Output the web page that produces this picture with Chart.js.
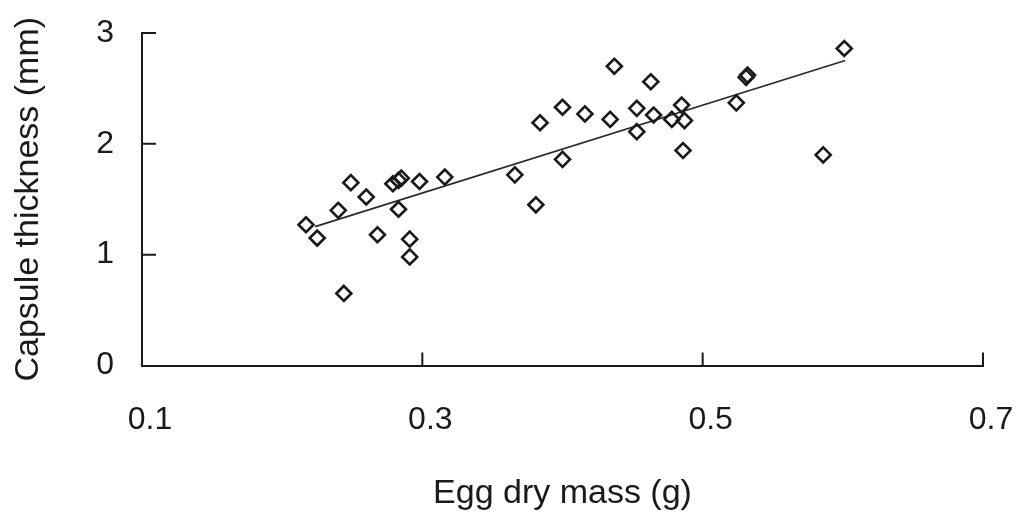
<!DOCTYPE html>
<html>
<head>
<meta charset="utf-8">
<script src="https://cdn.jsdelivr.net/npm/chart.js@4.4.1/dist/chart.umd.min.js"></script>
<style>
  html, body { margin: 0; padding: 0; background: #fff; }
  #wrap { width: 1032px; height: 516px; }
</style>
</head>
<body>
<div id="wrap"><canvas id="scatter"></canvas></div>
<script>
// DATA ==============================================================
var eggMass = [0.217, 0.225, 0.240, 0.244, 0.249, 0.260, 0.268, 0.279, 0.283, 0.285,
               0.283, 0.291, 0.291, 0.298, 0.316, 0.366, 0.381, 0.384, 0.400, 0.400,
               0.416, 0.434, 0.437, 0.453, 0.453, 0.463, 0.465, 0.478, 0.485, 0.487,
               0.486, 0.524, 0.531, 0.532, 0.586, 0.601];
var capsuleThickness = [1.27, 1.15, 1.40, 0.65, 1.65, 1.52, 1.18, 1.64, 1.67, 1.69,
                        1.41, 1.14, 0.98, 1.66, 1.70, 1.72, 1.45, 2.19, 2.33, 1.86,
                        2.27, 2.22, 2.70, 2.32, 2.11, 2.56, 2.26, 2.22, 2.35, 2.21,
                        1.94, 2.37, 2.60, 2.62, 1.90, 2.86];
var fitX = [0.2235, 0.6017];
var fitY = [1.253, 2.751];

var xTickMarks = [0.3, 0.5, 0.7];
var yTickMarks = [1, 2, 3];

var ink = "#1a1a1a";
var font = "'Liberation Sans', Arial, sans-serif";

var points = eggMass.map(function (m, i) { return { x: m, y: capsuleThickness[i] }; });
var fitLine = fitX.map(function (m, i) { return { x: m, y: fitY[i] }; });

// inward tick marks (Chart.js only draws them outward)
var innerTicks = {
	id: "innerTicks",
	afterDraw: function (chart) {
		var ctx = chart.ctx;
		var xs = chart.scales.x, ys = chart.scales.y;
		var area = chart.chartArea;
		ctx.save();
		ctx.strokeStyle = ink;
		ctx.lineWidth = 2;
		ctx.beginPath();
		yTickMarks.forEach(function (v) {
			var py = ys.getPixelForValue(v);
			ctx.moveTo(area.left, py);
			ctx.lineTo(area.left + 14, py);
		});
		xTickMarks.forEach(function (v) {
			var px = xs.getPixelForValue(v);
			ctx.moveTo(px, area.bottom);
			ctx.lineTo(px, area.bottom - 13);
		});
		ctx.stroke();
		ctx.restore();
	}
};

var chart = new Chart(document.getElementById("scatter"), {
	type: "scatter",
	data: {
		datasets: [
			{
				label: "Eggs",
				data: points,
				pointStyle: "rectRot",
				pointRadius: 7.5,
				pointBorderWidth: 2.6,
				pointBorderColor: ink,
				pointBackgroundColor: "rgba(0,0,0,0)"
			},
			{
				type: "line",
				label: "Fit",
				data: fitLine,
				borderColor: "#2a2a2a",
				borderWidth: 1.6,
				pointRadius: 0,
				fill: false
			}
		]
	},
	options: {
		responsive: true,
		maintainAspectRatio: false,
		animation: false,
		layout: { padding: { top: 33, right: 49, left: 0, bottom: 0 } },
		plugins: {
			legend: { display: false },
			tooltip: { enabled: false }
		},
		scales: {
			x: {
				type: "linear",
				min: 0.1,
				max: 0.7,
				afterFit: function (s) {
					s.height = 150.5;
					s.paddingLeft = 0;
					s.paddingRight = 0;
				},
				ticks: {
					stepSize: 0.2,
					padding: 35,
					labelOffset: 8,
					color: ink,
					font: { family: font, size: 32 },
					callback: function (v) { return v.toFixed(1); }
				},
				grid: { drawOnChartArea: false, drawTicks: false },
				border: { display: true, color: ink, width: 2 },
				title: {
					display: true,
					text: "Egg dry mass (g)",
					color: ink,
					font: { family: font, size: 34 },
					padding: { top: 0, bottom: 2 }
				}
			},
			y: {
				min: 0,
				max: 3,
				afterFit: function (s) {
					s.width = 142;
					s.paddingTop = 0;
					s.paddingBottom = 0;
				},
				ticks: {
					stepSize: 1,
					padding: 28,
					color: ink,
					font: { family: font, size: 32 }
				},
				grid: { drawOnChartArea: false, drawTicks: false },
				border: { display: true, color: ink, width: 2 },
				title: {
					display: true,
					text: "Capsule thickness (mm)",
					color: ink,
					font: { family: font, size: 34 },
					padding: { top: 8, bottom: 0 }
				}
			}
		}
	},
	plugins: [innerTicks]
});
</script>
</body>
</html>
